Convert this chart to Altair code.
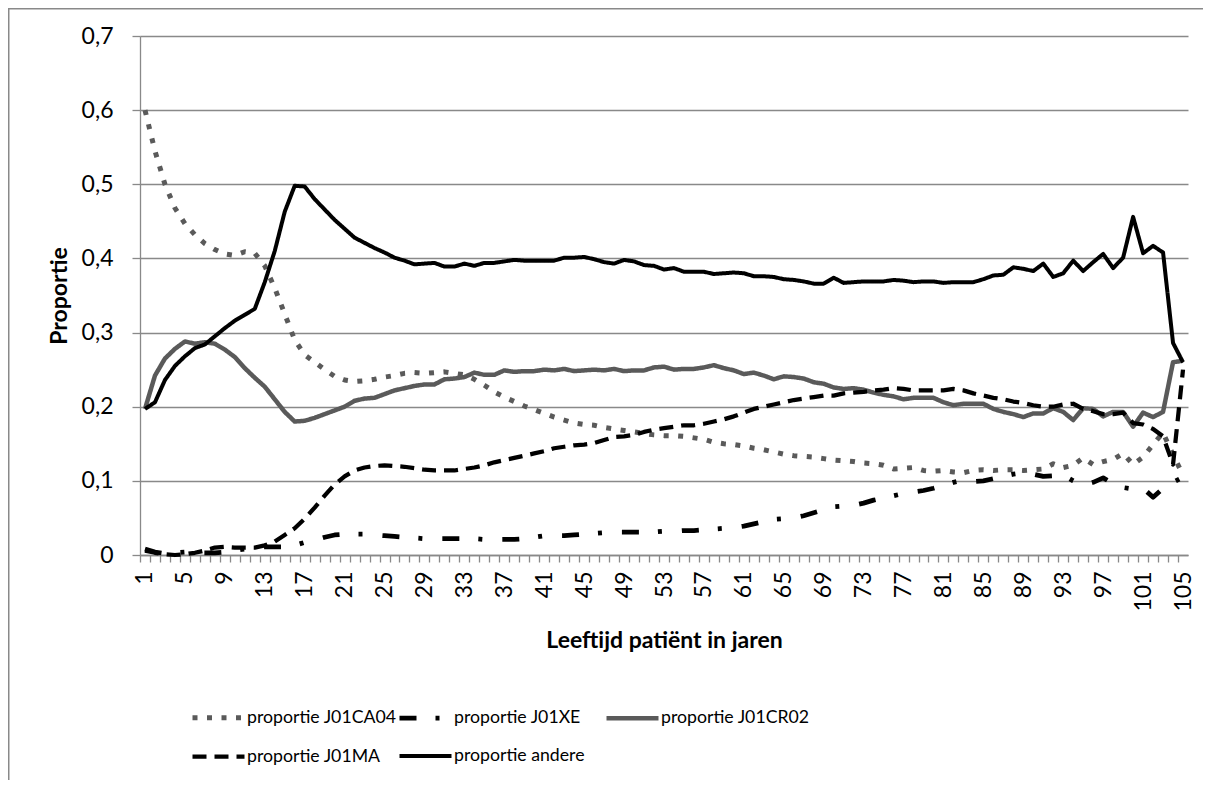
import altair as alt
import pandas as pd

ages = list(range(1, 106))

series_names = ["proportie J01CA04", "proportie J01XE", "proportie J01CR02",
                "proportie J01MA", "proportie andere"]

ca04 = [0.600,0.545,0.500,0.468,0.447,0.432,0.420,0.412,0.406,0.404,
        0.409,0.407,0.390,0.360,0.325,0.290,0.270,0.260,0.250,0.241,
        0.236,0.234,0.235,0.237,0.240,0.242,0.245,0.246,0.245,0.246,
        0.247,0.245,0.243,0.237,0.229,0.220,0.213,0.207,0.201,0.196,
        0.191,0.186,0.182,0.178,0.176,0.175,0.172,0.170,0.168,0.166,
        0.164,0.162,0.161,0.161,0.160,0.158,0.156,0.152,0.150,0.149,
        0.147,0.144,0.142,0.139,0.136,0.134,0.133,0.132,0.130,0.128,
        0.127,0.126,0.124,0.123,0.121,0.116,0.117,0.118,0.114,0.113,
        0.114,0.112,0.111,0.114,0.115,0.114,0.115,0.115,0.114,0.115,
        0.116,0.123,0.118,0.121,0.131,0.122,0.126,0.129,0.137,0.122,
        0.132,0.149,0.165,0.135,0.108]

xe = [0.008,0.004,0.002,0.003,0.004,0.003,0.003,0.003,0.004,0.006,
      0.008,0.010,0.011,0.011,0.011,0.013,0.017,0.020,0.024,0.027,
      0.028,0.028,0.028,0.027,0.026,0.025,0.024,0.023,0.022,0.022,
      0.022,0.022,0.022,0.022,0.021,0.021,0.021,0.021,0.022,0.024,
      0.026,0.026,0.026,0.027,0.028,0.029,0.030,0.031,0.031,0.031,
      0.031,0.031,0.032,0.032,0.033,0.033,0.034,0.035,0.036,0.037,
      0.039,0.042,0.045,0.048,0.049,0.050,0.053,0.057,0.061,0.065,
      0.066,0.067,0.070,0.074,0.077,0.080,0.083,0.085,0.087,0.090,
      0.094,0.098,0.101,0.099,0.100,0.103,0.106,0.109,0.111,0.109,
      0.106,0.107,0.108,0.100,0.094,0.098,0.104,0.096,0.091,0.089,
      0.090,0.078,0.090,0.098,0.105]

cr02 = [0.197,0.242,0.265,0.278,0.288,0.285,0.287,0.285,0.277,0.267,
        0.252,0.239,0.227,0.210,0.193,0.180,0.181,0.185,0.190,0.195,
        0.200,0.208,0.211,0.212,0.217,0.222,0.225,0.228,0.230,0.230,
        0.237,0.238,0.240,0.246,0.243,0.243,0.249,0.247,0.248,0.248,
        0.250,0.249,0.251,0.248,0.249,0.250,0.249,0.251,0.248,0.249,
        0.249,0.253,0.254,0.250,0.251,0.251,0.253,0.256,0.252,0.249,
        0.244,0.246,0.242,0.237,0.241,0.240,0.238,0.233,0.231,0.226,
        0.224,0.225,0.223,0.219,0.216,0.214,0.210,0.212,0.212,0.212,
        0.206,0.202,0.204,0.204,0.204,0.197,0.193,0.190,0.186,0.191,
        0.191,0.198,0.193,0.182,0.198,0.197,0.187,0.193,0.193,0.173,
        0.192,0.186,0.193,0.260,0.262]

ma = [0.006,0.003,0.001,0.000,0.001,0.003,0.006,0.010,0.011,0.010,
      0.010,0.010,0.013,0.018,0.027,0.036,0.049,0.064,0.080,0.095,
      0.106,0.114,0.118,0.120,0.121,0.120,0.119,0.117,0.115,0.114,
      0.114,0.114,0.116,0.118,0.121,0.125,0.128,0.131,0.134,0.137,
      0.140,0.144,0.146,0.148,0.149,0.151,0.155,0.159,0.160,0.162,
      0.166,0.169,0.171,0.173,0.175,0.175,0.177,0.180,0.183,0.187,
      0.192,0.197,0.200,0.203,0.206,0.209,0.211,0.213,0.215,0.215,
      0.218,0.219,0.220,0.222,0.223,0.225,0.224,0.222,0.222,0.222,
      0.222,0.224,0.222,0.218,0.215,0.212,0.210,0.207,0.205,0.202,
      0.200,0.200,0.203,0.204,0.197,0.194,0.190,0.190,0.192,0.178,
      0.176,0.170,0.160,0.122,0.250]

andere = [0.197,0.206,0.236,0.255,0.268,0.279,0.284,0.295,0.306,0.316,
          0.324,0.332,0.368,0.410,0.463,0.498,0.497,0.480,0.466,0.452,
          0.440,0.428,0.421,0.414,0.408,0.401,0.397,0.392,0.393,0.394,
          0.389,0.389,0.393,0.390,0.394,0.394,0.396,0.398,0.397,0.397,
          0.397,0.397,0.401,0.401,0.402,0.399,0.395,0.393,0.398,0.396,
          0.391,0.390,0.385,0.387,0.382,0.382,0.382,0.379,0.380,0.381,
          0.380,0.376,0.376,0.375,0.372,0.371,0.369,0.366,0.366,0.374,
          0.367,0.368,0.369,0.369,0.369,0.371,0.370,0.368,0.369,0.369,
          0.367,0.368,0.368,0.368,0.372,0.377,0.378,0.388,0.386,0.383,
          0.393,0.375,0.380,0.397,0.383,0.395,0.406,0.387,0.401,0.456,
          0.407,0.417,0.408,0.286,0.260]

y_ticks = [0.0, 0.1, 0.2, 0.3, 0.4, 0.5, 0.6, 0.7]

rows = []
for name, vals in zip(series_names, [ca04, xe, cr02, ma, andere]):
    for a, v in zip(ages, vals):
        rows.append({"leeftijd": a, "serie": name, "waarde": v})
df = pd.DataFrame(rows)

GRAY = "#898989"
FONT = "Lato"

color_range = ["#5a5a5a", "#000000", "#5a5a5a", "#000000", "#000000"]
dash_range = [[5, 9.5], [17, 19, 4, 20], [1, 0], [14, 8], [1, 0]]
width_range = [5, 4, 3.6, 4, 4]


def build(row_pad, col_pad):
    legend = alt.Legend(
        title=None, orient="none", legendX=50, legendY=653, columns=3,
        direction="horizontal", gridAlign="all", symbolType="stroke",
        symbolSize=2704, symbolStrokeWidth=4.5, labelFont=FONT,
        labelFontSize=17.7, labelColor="black", labelOffset=0,
        columnPadding=col_pad, rowPadding=row_pad, labelLimit=400, padding=0,
    )

    lines = alt.Chart(df).mark_line(strokeJoin="round").encode(
        x=alt.X("leeftijd:O",
                scale=alt.Scale(domain=ages),
                axis=alt.Axis(
                    title="Leeftijd patiënt in jaren",
                    labelExpr="(datum.value - 1) % 4 == 0 ? '' + datum.value : ''",
                    labelAngle=270, labelOverlap=False,
                    labelFont=FONT, labelFontSize=23, labelColor="black",
                    labelPadding=9, tickSize=7, tickOffset=-5, labelOffset=5,
                    tickColor=GRAY, tickWidth=1.3, domainColor=GRAY, domainWidth=1.3,
                    titleFont=FONT, titleFontSize=23, titleFontWeight="bold",
                    titleColor="black", titlePadding=18, grid=False)),
        y=alt.Y("waarde:Q",
                scale=alt.Scale(domain=[0, 0.7], nice=False, zero=True),
                axis=alt.Axis(
                    title="Proportie", values=y_ticks,
                    labelExpr="datum.value == 0 ? '0' : replace(format(datum.value, '.1f'), '.', ',')",
                    labelFont=FONT, labelFontSize=23, labelColor="black",
                    labelPadding=19, tickSize=8, tickColor=GRAY, tickWidth=1.3,
                    domainColor=GRAY, domainWidth=1.3, gridColor=GRAY, gridWidth=1.3,
                    titleFont=FONT, titleFontSize=23, titleFontWeight="bold",
                    titleColor="black", titlePadding=10)),
        color=alt.Color("serie:N", scale=alt.Scale(domain=series_names, range=color_range),
                        legend=legend),
        strokeDash=alt.StrokeDash("serie:N", scale=alt.Scale(domain=series_names, range=dash_range),
                                  legend=legend),
        strokeWidth=alt.StrokeWidth("serie:N", scale=alt.Scale(domain=series_names, range=width_range),
                                    legend=None),
        order=alt.Order("leeftijd:Q"),
    )

    frame = pd.DataFrame({"k": [0]})
    left_border = alt.Chart(frame).mark_rule(color=GRAY, strokeWidth=1.5).encode(
        x=alt.value(-131.25), y=alt.value(-27.5), y2=alt.value(760))
    top_border = alt.Chart(frame).mark_rule(color=GRAY, strokeWidth=1.5).encode(
        x=alt.value(-132), x2=alt.value(1080), y=alt.value(-27.25))

    chart = alt.layer(left_border, top_border, lines).properties(
        width=1048, height=519,
        padding={"left": 132, "top": 28, "right": 15, "bottom": 225},
        autosize=alt.AutoSizeParams(type="none"),
        background="white",
    ).configure_view(stroke=None)
    return chart


try:
    chart = build(-3, -7)
    chart.to_dict()
except Exception:
    chart = build(0, 0)

chart.save("out.html", embed_options={"renderer": "svg", "actions": False})
